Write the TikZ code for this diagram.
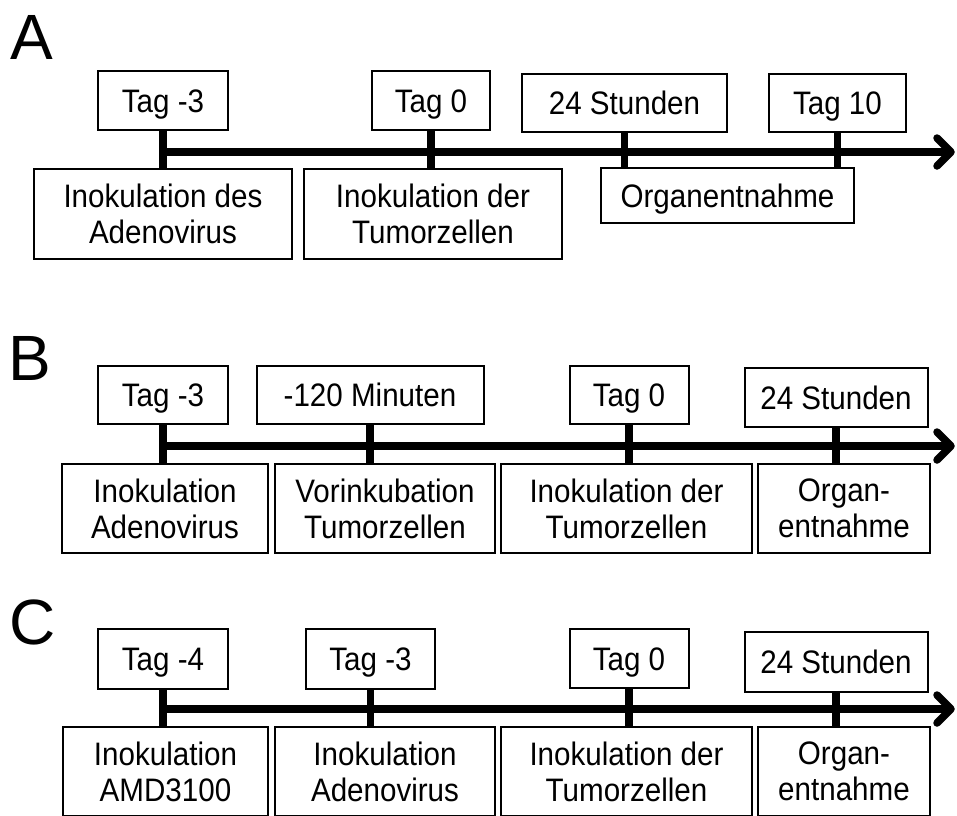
\documentclass[tikz,border=0pt]{standalone}
\usepackage{fontspec}
\setmainfont{Liberation Sans}[FakeStretch=0.91]
\newfontfamily\labelfont{Liberation Sans}
\usetikzlibrary{calc}
\begin{document}
\begin{tikzpicture}[x=1pt,y=-1pt,
  box/.style={draw=black, line width=2pt, inner sep=0pt, align=center,
    font=\fontsize{32.5}{36}\selectfont},
  single/.style={text height=23.3pt, text depth=0pt},
  panellabel/.style={inner sep=0pt, anchor=base west, font=\labelfont\fontsize{64}{64}\selectfont},
  tickline/.style={line width=7.5pt},
  axisline/.style={line width=7.5pt},
  chevron/.style={line width=7.5pt, line cap=round, line join=round}]
\useasboundingbox[fill=white] (0,0) rectangle (957,815);

% ---------- Panel A ----------
\node[panellabel] (labA) at (10,59) {A};
\node[box, single, minimum width=130pt, minimum height=59pt] (a1t) at (163,100.5) {Tag -3};
\node[box, single, minimum width=118pt, minimum height=59pt] (a2t) at (431,100.5) {Tag 0};
\node[box, single, minimum width=205pt, minimum height=58pt] (a3t) at (624.5,103) {24 Stunden};
\node[box, single, minimum width=137pt, minimum height=58pt] (a4t) at (837.5,103) {Tag 10};
\node[box, minimum width=258pt, minimum height=90pt] (a1b) at (163,214) {Inokulation des\\Adenovirus};
\node[box, minimum width=258pt, minimum height=90pt] (a2b) at (433,214) {Inokulation der\\Tumorzellen};
\node[box, single, minimum width=253pt, minimum height=55pt] (a3b) at (727.5,195.5) {Organentnahme};
\coordinate (aS) at (159.25,152);
\coordinate (aE) at (951,152);
\draw[axisline] (aS) -- (aE);
\draw[chevron] ($(aE)+(-14,-14)$) -- (aE) -- ($(aE)+(-14,14)$);
\draw[tickline] (a1t.south) -- (a1t.south |- a1b.north);
\draw[tickline] (a2t.south) -- (a2t.south |- a2b.north);
\draw[tickline] (a3t.south) -- (a3t.south |- a3b.north);
\draw[tickline] (a4t.south) -- (a4t.south |- a3b.north);

% ---------- Panel B ----------
\node[panellabel] (labB) at (8.5,380) {B};
\node[box, single, minimum width=130pt, minimum height=58pt] (b1t) at (163,395) {Tag -3};
\node[box, single, minimum width=227pt, minimum height=58pt] (b2t) at (370,395) {-120 Minuten};
\node[box, single, minimum width=119pt, minimum height=58pt] (b3t) at (629,395) {Tag 0};
\node[box, single, minimum width=183pt, minimum height=59pt] (b4t) at (836,397.5) {24 Stunden};
\node[box, minimum width=206pt, minimum height=89pt] (b1b) at (165,508.5) {Inokulation\\Adenovirus};
\node[box, minimum width=220pt, minimum height=89pt] (b2b) at (385,508.5) {Vorinkubation\\Tumorzellen};
\node[box, minimum width=251pt, minimum height=89pt] (b3b) at (626.5,508.5) {Inokulation der\\Tumorzellen};
\node[box, minimum width=172pt, minimum height=89pt] (b4b) at (844,508.5) {Organ-\\entnahme};
\coordinate (bS) at (159.25,446);
\coordinate (bE) at (951,446);
\draw[axisline] (bS) -- (bE);
\draw[chevron] ($(bE)+(-14,-14)$) -- (bE) -- ($(bE)+(-14,14)$);
\draw[tickline] (b1t.south) -- (b1t.south |- b1b.north);
\draw[tickline] (b2t.south) -- (b2t.south |- b2b.north);
\draw[tickline] (b3t.south) -- (b3t.south |- b3b.north);
\draw[tickline] (b4t.south) -- (b4t.south |- b4b.north);

% ---------- Panel C ----------
\node[panellabel] (labC) at (9.5,644) {C};
\node[box, single, minimum width=130pt, minimum height=60pt] (c1t) at (163,659) {Tag -4};
\node[box, single, minimum width=129pt, minimum height=60pt] (c2t) at (370.5,659) {Tag -3};
\node[box, single, minimum width=119pt, minimum height=59pt] (c3t) at (629,658.5) {Tag 0};
\node[box, single, minimum width=183pt, minimum height=60pt] (c4t) at (836,662) {24 Stunden};
\node[box, minimum width=205pt, minimum height=89pt] (c1b) at (165.5,771.5) {Inokulation\\AMD3100};
\node[box, minimum width=220pt, minimum height=89pt] (c2b) at (385,771.5) {Inokulation\\Adenovirus};
\node[box, minimum width=251pt, minimum height=89pt] (c3b) at (626.5,771.5) {Inokulation der\\Tumorzellen};
\node[box, minimum width=172pt, minimum height=89pt] (c4b) at (844,771.5) {Organ-\\entnahme};
\coordinate (cS) at (159.25,709);
\coordinate (cE) at (951,709);
\draw[axisline] (cS) -- (cE);
\draw[chevron] ($(cE)+(-14,-14)$) -- (cE) -- ($(cE)+(-14,14)$);
\draw[tickline] (c1t.south) -- (c1t.south |- c1b.north);
\draw[tickline] (c2t.south) -- (c2t.south |- c2b.north);
\draw[tickline] (c3t.south) -- (c3t.south |- c3b.north);
\draw[tickline] (c4t.south) -- (c4t.south |- c4b.north);
\end{tikzpicture}
\end{document}
